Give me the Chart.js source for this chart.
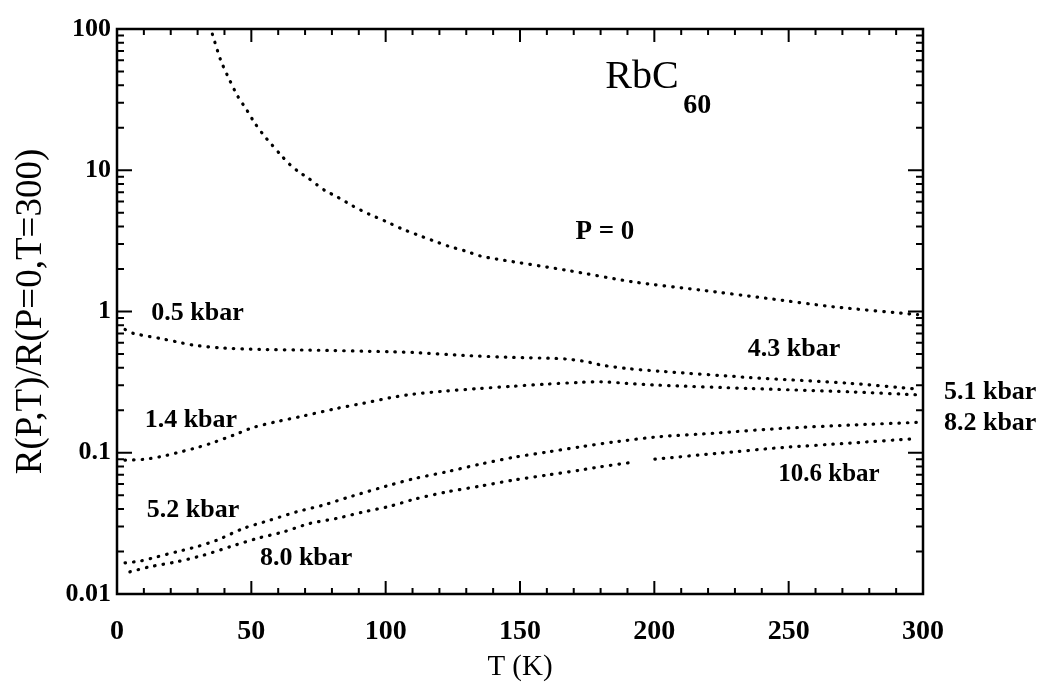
<!DOCTYPE html>
<html>
<head>
<meta charset="utf-8">
<script src="https://cdn.jsdelivr.net/npm/chart.js@4/dist/chart.umd.min.js"></script>
<style>
  body { margin: 0; background: #fff; }
  #chart { display: block; }
</style>
</head>
<body>
<canvas id="chart" width="1040" height="698"></canvas>
<script>
// temperature (K) and R(P,T)/R(P=0,T=300)
const t_p0 = [35.5, 38.6, 41.8, 44.9, 48.3, 51.2, 54.4, 57.7, 60.7, 64.5, 67.8, 71.2, 74.4, 77.8, 81.2, 87.7, 93.7, 100, 106, 112, 117.7, 123.4, 129.4, 135.3, 141.3, 167.3, 192.1, 217, 241.8, 266.6, 298];
const r_p0 = [92, 60, 44, 33.5, 26.7, 21.7, 17.9, 15.1, 13.0, 10.9, 9.7, 8.8, 7.9, 7.1, 6.6, 5.6, 4.9, 4.35, 3.85, 3.48, 3.17, 2.9, 2.69, 2.47, 2.35, 1.96, 1.62, 1.42, 1.24, 1.08, 0.95];

const t_05 = [3, 6.1, 16, 22.2, 28.4, 38.3, 53.2, 71.8, 101.6, 110.3, 128.9, 147.5, 162.4, 168.6, 174.8, 180.4, 189.7, 201.5, 235.6, 272.8, 298];
const r_05 = [0.746, 0.70, 0.645, 0.61, 0.578, 0.553, 0.539, 0.533, 0.519, 0.513, 0.489, 0.473, 0.466, 0.458, 0.441, 0.417, 0.395, 0.378, 0.341, 0.31, 0.282];

const t_14 = [3, 9.8, 16, 22.2, 28.4, 34.6, 43.3, 50.7, 59.4, 69.3, 81.8, 91.7, 101.6, 110.3, 122.7, 135.1, 147.5, 159.9, 172.3, 180.4, 189.7, 201.5, 235.6, 272.8, 300];
const r_14 = [0.0887, 0.0897, 0.0936, 0.0998, 0.107, 0.116, 0.133, 0.151, 0.166, 0.182, 0.206, 0.224, 0.245, 0.26, 0.274, 0.285, 0.296, 0.306, 0.315, 0.318, 0.31, 0.301, 0.285, 0.27, 0.256];

const t_52 = [3, 8.6, 14.8, 22.2, 29.6, 37.1, 47, 56.9, 66.9, 76.8, 86.7, 101.6, 110.3, 122.7, 135.1, 147.5, 159.9, 172.3, 184.7, 202, 223.2, 248, 272.8, 297.6];
const r_52 = [0.0166, 0.0171, 0.0183, 0.0199, 0.0216, 0.024, 0.0291, 0.0333, 0.0382, 0.0426, 0.0488, 0.059, 0.0654, 0.0733, 0.083, 0.0927, 0.101, 0.11, 0.119, 0.13, 0.138, 0.149, 0.157, 0.164];

// 8.0 kbar curve has a short break near 196 K
const t_80 = [4.8, 12.3, 22.2, 32.1, 42.1, 52, 61.9, 71.8, 81.8, 91.7, 101.6, 110.3, 122.7, 135.1, 147.5, 159.9, 172.3, 179.8, 192.2, 196, 200.2, 223.2, 248, 272.8, 297.6];
const r_80 = [0.01435, 0.0156, 0.0169, 0.0188, 0.0216, 0.0247, 0.0275, 0.0316, 0.0343, 0.0381, 0.0418, 0.0467, 0.0528, 0.058, 0.064, 0.0694, 0.0753, 0.0795, 0.0858, null, 0.0901, 0.0989, 0.109, 0.117, 0.126];

const yTickValues = [0.01, 0.1, 1, 10, 100];
const xTickStep = 50;

// text placed in data coordinates
const curveLabels = [
  { text: "P = 0", t: 181.6, v: 3.65, size: 27, bold: true },
  { text: "0.5 kbar", t: 30, v: 0.975, size: 26, bold: true },
  { text: "4.3 kbar", t: 252, v: 0.542, size: 26, bold: true },
  { text: "5.1 kbar", t: 325, v: 0.268, size: 26, bold: true },
  { text: "8.2 kbar", t: 325, v: 0.162, size: 26, bold: true },
  { text: "1.4 kbar", t: 27.5, v: 0.170, size: 26, bold: true },
  { text: "5.2 kbar", t: 28.3, v: 0.0392, size: 26, bold: true },
  { text: "8.0 kbar", t: 70.4, v: 0.01795, size: 26, bold: true },
  { text: "10.6 kbar", t: 265, v: 0.0705, size: 25, bold: true },
  { text: "RbC", t: 195.4, v: 45, size: 40, bold: false },
  { text: "60", t: 216, v: 28.5, size: 28, bold: true }
];

const FONT = "'Liberation Serif', 'DejaVu Serif', serif";

function toPoints(ts, rs) {
  return ts.map((t, i) => ({ x: t, y: rs[i] }));
}

function dotted(data) {
  return {
    data: data,
    borderColor: "#000",
    borderWidth: 3.2,
    borderDash: [0.5, 8],
    borderCapStyle: "round",
    pointRadius: 0,
    tension: 0.25,
    spanGaps: false,
    fill: false
  };
}

// frame with inward ticks on all four sides
const framePlugin = {
  id: "frame",
  afterDatasetsDraw(chart) {
    const ctx = chart.ctx;
    const a = chart.chartArea;
    const xs = chart.scales.x, ys = chart.scales.y;
    ctx.save();
    ctx.strokeStyle = "#000";
    ctx.lineWidth = 2.5;
    ctx.strokeRect(a.left, a.top, a.right - a.left, a.bottom - a.top);

    ctx.lineWidth = 2;
    ctx.beginPath();
    for (let t = 0; t <= 300; t += 10) {
      const px = xs.getPixelForValue(t);
      const len = t % xTickStep === 0 ? 13 : 6;
      ctx.moveTo(px, a.bottom); ctx.lineTo(px, a.bottom - len);
      ctx.moveTo(px, a.top); ctx.lineTo(px, a.top + len);
    }
    for (let d = 0; d < yTickValues.length; d++) {
      const base = yTickValues[d];
      for (let m = 1; m <= 9; m++) {
        const v = base * m;
        if (v > 100) break;
        const py = ys.getPixelForValue(v);
        const len = m === 1 ? 15 : 7;
        ctx.moveTo(a.left, py); ctx.lineTo(a.left + len, py);
        ctx.moveTo(a.right, py); ctx.lineTo(a.right - len, py);
      }
    }
    ctx.stroke();

    ctx.fillStyle = "#000";
    ctx.textAlign = "center";
    ctx.textBaseline = "middle";
    curveLabels.forEach((l) => {
      ctx.font = (l.bold ? "bold " : "") + l.size + "px " + FONT;
      ctx.fillText(l.text, xs.getPixelForValue(l.t), ys.getPixelForValue(l.v));
    });
    ctx.restore();
  }
};

const ctx = document.getElementById("chart").getContext("2d");

new Chart(ctx, {
  type: "line",
  data: {
    datasets: [
      dotted(toPoints(t_p0, r_p0)),
      dotted(toPoints(t_05, r_05)),
      dotted(toPoints(t_14, r_14)),
      dotted(toPoints(t_52, r_52)),
      dotted(toPoints(t_80, r_80))
    ]
  },
  options: {
    responsive: false,
    animation: false,
    layout: { padding: { left: 0, right: 117, top: 29, bottom: 0 } },
    plugins: {
      legend: { display: false },
      tooltip: { enabled: false }
    },
    scales: {
      x: {
        type: "linear",
        min: 0,
        max: 300,
        grid: { display: false, drawTicks: false },
        border: { display: false },
        ticks: {
          stepSize: xTickStep,
          maxRotation: 0,
          padding: 21,
          color: "#000",
          font: { family: FONT, size: 28, weight: "bold" }
        },
        title: {
          display: true,
          text: "T (K)",
          color: "#000",
          font: { family: FONT, size: 29 },
          padding: { top: 0, bottom: 13 }
        },
        afterFit: (s) => { s.height = 104; }
      },
      y: {
        type: "logarithmic",
        min: 0.01,
        max: 100,
        grid: { display: false, drawTicks: false },
        border: { display: false },
        afterBuildTicks: (s) => { s.ticks = yTickValues.map((v) => ({ value: v })); },
        ticks: {
          padding: 6,
          color: "#000",
          font: { family: FONT, size: 26, weight: "bold" },
          callback: (v) => String(v)
        },
        title: {
          display: true,
          text: "R(P,T)/R(P=0,T=300)",
          color: "#000",
          font: { family: FONT, size: 37 },
          padding: { top: 9, bottom: 0 }
        },
        afterFit: (s) => { s.width = 117; }
      }
    }
  },
  plugins: [framePlugin]
});
</script>
</body>
</html>
